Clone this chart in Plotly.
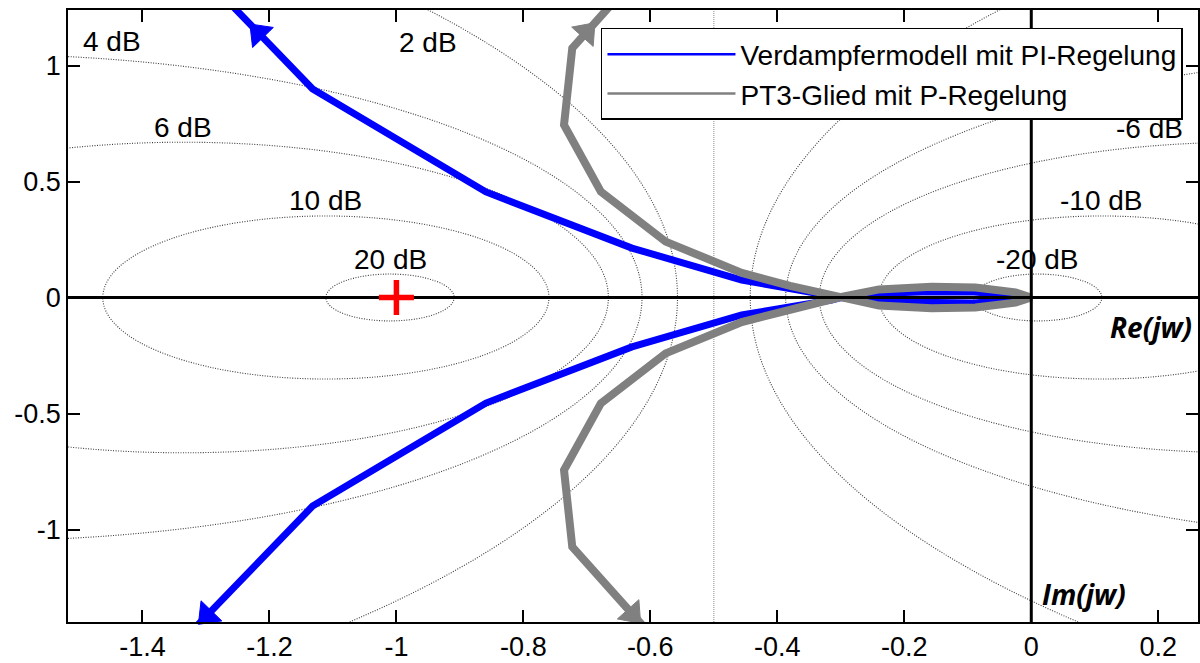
import numpy as np
import plotly.graph_objects as go

# Nyquist loci, branch for positive frequencies (the other half is its mirror image)
pi_re = [-1.45, -1.132, -0.859, -0.629, -0.456, -0.315, -0.300, -0.240, -0.160, -0.090, -0.030, 0.0]
pi_im = [1.80, 0.899, 0.455, 0.213, 0.075, 0.011, 0.000, -0.018, -0.025, -0.024, -0.011, 0.0]

p_re = [-0.584, -0.723, -0.736, -0.678, -0.576, -0.456, -0.380, -0.303, -0.240, -0.157, -0.088, -0.025, 0.0]
p_im = [1.500, 1.075, 0.744, 0.456, 0.241, 0.106, 0.050, 0.000, -0.035, -0.046, -0.043, -0.022, 0.0]

# imaginary part at which the direction arrows sit (upper / lower half)
pi_arrow_im = [1.14, -1.37]
p_arrow_im = [1.144, -1.364]

series_names = ["Verdampfermodell mit PI-Regelung", "PT3-Glied mit P-Regelung"]
series_colors = ["#0000ff", "#808080"]

# closed-loop magnitude contours of the Nyquist grid
grid_db = [-20, -10, -6, -4, -2, 0, 2, 4, 6, 10, 20]
labelled_db = [20, 10, 6, 4, 2, -6, -10, -20]

critical_point = (-1.0, 0.0)

x_range = [-1.5173, 0.2626]
y_range = [-1.3987, 1.2392]
x_ticks = [-1.4, -1.2, -1.0, -0.8, -0.6, -0.4, -0.2, 0.0, 0.2]
x_ticktext = ["-1.4", "-1.2", "-1", "-0.8", "-0.6", "-0.4", "-0.2", "0", "0.2"]
y_ticks = [-1.0, -0.5, 0.0, 0.5, 1.0]
y_ticktext = ["-1", "-0.5", "0", "0.5", "1"]

FONT = "Liberation Sans, Arial, sans-serif"
LABEL_FONT = "Open Sans, sans-serif"


def full_locus(re, im):
    """Positive-frequency branch followed by the mirrored negative-frequency branch."""
    re = list(re)
    im = list(im)
    return re + re[::-1][1:], im + [-v for v in im[::-1][1:]]


def arrow_points(re, im, target):
    """Point on the locus with |Im| == target, plus the next point towards the origin."""
    sign = 1 if target >= 0 else -1
    t = abs(target)
    for i in range(len(re) - 1):
        a, b = im[i], im[i + 1]
        if a != b and (a - t) * (b - t) <= 0:
            f = (t - a) / (b - a)
            x = re[i] + f * (re[i + 1] - re[i])
            return [re[i + 1], x], [sign * im[i + 1], sign * t]
    return [], []


def m_circle(db):
    m = 10 ** (db / 20.0)
    c = -m * m / (m * m - 1)
    r = abs(m / (m * m - 1))
    return c, r


fig = go.Figure()

# grid contours
shapes = []
for db in grid_db:
    if db == 0:
        shapes.append(dict(type="line", xref="x", yref="y", x0=-0.5, x1=-0.5,
                           y0=y_range[0], y1=y_range[1], layer="below",
                           line=dict(color="#8c8c8c", width=1, dash="1px,1px")))
        continue
    c, r = m_circle(db)
    shapes.append(dict(type="circle", xref="x", yref="y", x0=c - r, x1=c + r,
                       y0=-r, y1=r, layer="below",
                       line=dict(color="#3c3c3c", width=1.1, dash="1px,1.5px")))

annotations = []
for db in labelled_db:
    c, r = m_circle(db)
    xa = min(max(c, x_range[0]), x_range[1])
    ya = np.sqrt(max(r * r - (xa - c) ** 2, 0.0))
    xanchor, xshift, yshift = "center", 0, 15
    if ya > y_range[1]:
        ya = y_range[1]
        dx = np.sqrt(r * r - ya * ya)
        xa = c + dx if c < x_range[0] else c - dx
        yshift = -32
    elif c < x_range[0]:
        xanchor, xshift = "left", 13
    elif c > x_range[1]:
        xanchor, xshift = "right", -13
    annotations.append(dict(x=xa, y=ya, xref="x", yref="y", text=f"{db} dB",
                            showarrow=False, xanchor=xanchor, yanchor="middle",
                            xshift=xshift, yshift=yshift,
                            font=dict(family=FONT, size=28, color="black")))

# loci
for (re, im), name, color, width in [((pi_re, pi_im), series_names[0], series_colors[0], 7),
                                      ((p_re, p_im), series_names[1], series_colors[1], 8)]:
    xs, ys = full_locus(re, im)
    fig.add_trace(go.Scatter(x=xs, y=ys, mode="lines", name=name, showlegend=False,
                             line=dict(color=color, width=width, shape="linear"),
                             hoverinfo="skip"))

# real and imaginary axes
fig.add_trace(go.Scatter(x=x_range, y=[0, 0], mode="lines", showlegend=False,
                         line=dict(color="black", width=3), hoverinfo="skip"))
fig.add_trace(go.Scatter(x=[0, 0], y=y_range, mode="lines", showlegend=False,
                         line=dict(color="black", width=3), hoverinfo="skip"))

# direction arrows
for (re, im), targets, color in [((pi_re, pi_im), pi_arrow_im, series_colors[0]),
                                 ((p_re, p_im), p_arrow_im, series_colors[1])]:
    for t in targets:
        ax, ay = arrow_points(re, im, t)
        fig.add_trace(go.Scatter(x=ax, y=ay, mode="markers", showlegend=False,
                                 marker=dict(symbol="triangle-up", size=[0, 25], color=color,
                                             opacity=1, angleref="previous",
                                             line=dict(color=color, width=1)),
                                 hoverinfo="skip", cliponaxis=False))

# critical point
fig.add_trace(go.Scatter(x=[critical_point[0]], y=[critical_point[1]], mode="markers",
                         showlegend=False,
                         marker=dict(symbol="cross-thin", size=25,
                                     line=dict(color="#ff0000", width=5.5)),
                         hoverinfo="skip"))

# legend entries
for name, color in zip(series_names, series_colors):
    fig.add_trace(go.Scatter(x=[None], y=[None], mode="lines", name=name,
                             line=dict(color=color, width=2.5)))

annotations.append(dict(x=x_range[1], y=0, xref="x", yref="y", text="<b><i>Re(jw)</i></b>",
                        showarrow=False, xanchor="right", yanchor="middle",
                        xshift=-4, yshift=-29,
                        font=dict(family=LABEL_FONT, size=28, color="black")))
annotations.append(dict(x=0, y=y_range[0], xref="x", yref="y", text="<b><i>Im(jw)</i></b>",
                        showarrow=False, xanchor="left", yanchor="middle",
                        xshift=9, yshift=28,
                        font=dict(family=LABEL_FONT, size=28, color="black")))

axis_common = dict(showgrid=False, zeroline=False, showline=True, linecolor="black",
                   linewidth=1.5, mirror="ticks", ticks="inside", ticklen=12,
                   tickwidth=1.5, tickcolor="black",
                   tickfont=dict(family=FONT, size=27, color="black"))

fig.update_layout(
    width=1200, height=663,
    margin=dict(l=68, r=0, t=10, b=41),
    paper_bgcolor="white", plot_bgcolor="white",
    font=dict(family=FONT, size=27, color="black"),
    xaxis=dict(range=x_range, tickvals=x_ticks, ticktext=x_ticktext, **axis_common),
    yaxis=dict(range=y_range, tickvals=y_ticks, ticktext=y_ticktext, **axis_common),
    shapes=shapes,
    annotations=annotations,
    legend=dict(x=0.9867, y=0.9706, xanchor="right", yanchor="top",
                bgcolor="white", bordercolor="black", borderwidth=1.5,
                font=dict(family=FONT, size=28, color="black"),
                itemwidth=128, tracegroupgap=0),
    showlegend=True,
)

fig.write_html("out.html")
